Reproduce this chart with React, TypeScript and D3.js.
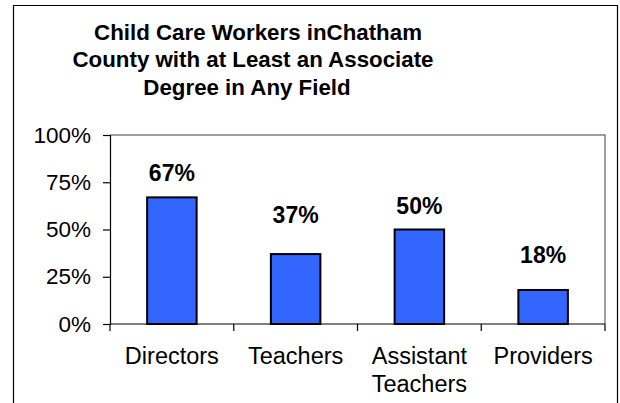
import React, { useEffect, useRef } from "react";
import { select, scaleBand, scaleLinear, axisLeft, format } from "d3";

const categories = ["Directors", "Teachers", "Assistant Teachers", "Providers"];
const values = [0.67, 0.37, 0.5, 0.18];
const tickValues = [0, 0.25, 0.5, 0.75, 1];
const titleLines = ["Child Care Workers inChatham", "County with at Least an Associate", "Degree in Any Field"];

// how far each value label sits above its bar (Excel placed them unevenly)
const labelLift = [16, 31, 16, 27];
const titleCenters = [258, 253, 247];

const FONT = "'Liberation Sans', Arial, Helvetica, sans-serif";

const App = () => {
  const svgRef = useRef<SVGSVGElement>(null);

  useEffect(() => {
    const svg = select(svgRef.current);
    const left = 110, right = 605, top = 135, bottom = 324;

    const x = scaleBand<string>().domain(categories).range([left, right]).padding(0);
    const y = scaleLinear().domain([0, 1]).range([bottom, top]);
    const barW = x.bandwidth() * 0.4;

    // plot frame (top and right sides in grey)
    svg.select(".plot-frame")
      .attr("d", `M${left},${top}H${right}V${bottom}`)
      .attr("fill", "none")
      .attr("stroke", "#808080")
      .attr("stroke-width", 1.5);

    const yAxis = axisLeft(y).tickValues(tickValues).tickFormat(format(".0%")).tickSize(7).tickPadding(12);
    const gy = svg.select<SVGGElement>(".y-axis").attr("transform", `translate(${left},0)`).call(yAxis);
    gy.select(".domain").attr("stroke", "#000").attr("stroke-width", 1.2);
    gy.selectAll(".tick line").attr("stroke", "#000").attr("stroke-width", 1.2);
    gy.selectAll(".tick text")
      .attr("font-size", 22.5)
      .attr("font-family", FONT)
      .attr("fill", "#000");

    // category axis
    const gx = svg.select(".x-axis");
    gx.selectAll("*").remove();
    gx.append("line")
      .attr("x1", left).attr("x2", right)
      .attr("y1", bottom).attr("y2", bottom)
      .attr("stroke", "#000").attr("stroke-width", 1.2);
    const edges = [...categories.map((c) => x(c) as number), right];
    gx.selectAll(".xtick")
      .data(edges)
      .join("line")
      .attr("class", "xtick")
      .attr("x1", (d) => d).attr("x2", (d) => d)
      .attr("y1", bottom).attr("y2", bottom + 7)
      .attr("stroke", "#000").attr("stroke-width", 1.2);
    const labels = gx.selectAll(".xlabel")
      .data(categories)
      .join("text")
      .attr("class", "xlabel")
      .attr("x", (d) => (x(d) as number) + x.bandwidth() / 2)
      .attr("y", 364)
      .attr("text-anchor", "middle")
      .attr("font-size", 23.5)
      .attr("font-family", FONT)
      .attr("fill", "#000");
    labels.selectAll("tspan")
      .data((d) => d.split(" ").length > 1 && d.length > 10 ? d.split(" ") : [d])
      .join("tspan")
      .attr("x", function () {
        return select(this.parentNode as SVGTextElement).attr("x");
      })
      .attr("dy", (_, i) => (i === 0 ? 0 : 28))
      .text((d) => d);

    // bars
    svg.select(".bars")
      .selectAll("rect")
      .data(values)
      .join("rect")
      .attr("x", (_, i) => (x(categories[i]) as number) + (x.bandwidth() - barW) / 2)
      .attr("y", (d) => y(d))
      .attr("width", barW)
      .attr("height", (d) => bottom - y(d))
      .attr("fill", "#3366ff")
      .attr("stroke", "#000")
      .attr("stroke-width", 2);

    svg.select(".values")
      .selectAll("text")
      .data(values)
      .join("text")
      .attr("x", (_, i) => (x(categories[i]) as number) + x.bandwidth() / 2)
      .attr("y", (d, i) => y(d) - labelLift[i])
      .attr("text-anchor", "middle")
      .attr("font-size", 23)
      .attr("font-weight", "bold")
      .attr("font-family", FONT)
      .attr("fill", "#000")
      .text((d) => format(".0%")(d));
  }, []);

  return (
    <svg
      ref={svgRef}
      width={620}
      height={403}
      style={{ position: "absolute", left: 0, top: 0, background: "#fff" }}
    >
      <rect x={0} y={0} width={620} height={403} fill="#fff" />
      <path d="M13.5,403V5.5H617.5V403" fill="none" stroke="#000" strokeWidth={1.2} />
      <g fontFamily={FONT} fontWeight="bold" fontSize={22.3} textAnchor="middle">
        {titleLines.map((t, i) => (
          <text key={t} x={titleCenters[i]} y={39.5 + i * 27.5}>
            {t}
          </text>
        ))}
      </g>
      <path className="plot-frame" />
      <g className="bars" />
      <g className="y-axis" />
      <g className="x-axis" />
      <g className="values" />
    </svg>
  );
};

export default App;
